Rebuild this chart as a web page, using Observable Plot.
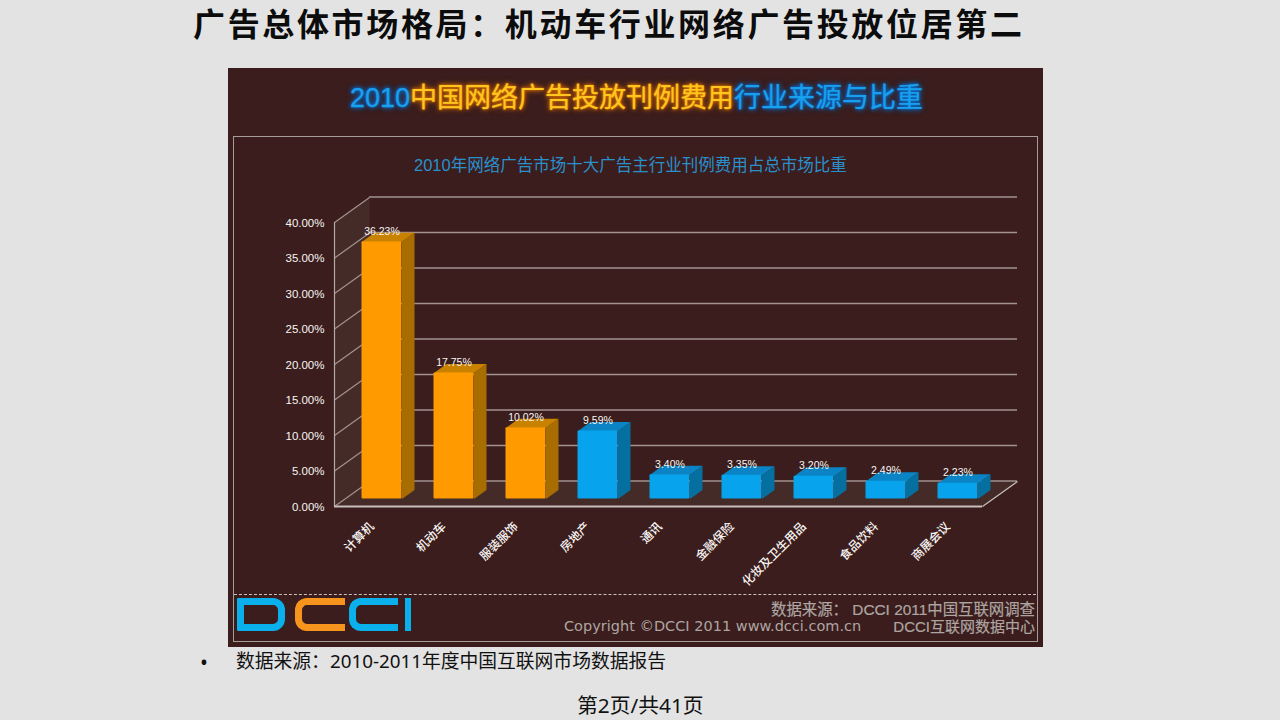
<!DOCTYPE html>
<html lang="zh">
<head>
<meta charset="utf-8">
<script src="https://cdn.jsdelivr.net/npm/d3@7"></script>
<script src="https://cdn.jsdelivr.net/npm/@observablehq/plot@0.6"></script>
<style>
html,body{margin:0;padding:0;background:#e3e3e3;overflow:hidden}
#page{position:relative;width:1280px;height:720px;font-family:"Noto Sans","Noto Sans CJK SC",sans-serif;color:#111}
#page>*{position:absolute}
#page svg{left:0;top:0}
.t{white-space:nowrap;line-height:1}
#heading{left:193px;top:6px;font:700 32px/1 "Noto Sans CJK SC",sans-serif;letter-spacing:2.65px;color:#0c0c0c}
#panel{left:228px;top:68px;width:815px;height:579px;background:#3a1d1c}
#inner{left:233px;top:136px;width:803px;height:504px;border:1px solid #a89c9a}
#dash{left:234px;top:594px;width:802px;border-top:1px dashed #c9c0be}
#banner{left:350px;top:76px;font:400 27px "Liberation Sans","Noto Sans CJK SC",sans-serif;-webkit-text-stroke:.25px currentColor}
#banner .b{color:#18a0ee;text-shadow:0 0 3px #0a6ac8,0 0 5px #0a6ac8,0 0 6px #0a5aa8}
#banner .o{color:#ffc61e;text-shadow:0 0 2px #e07000,0 0 4px #e07000,0 0 6px #c06000}
#sub{left:414px;top:152px;font:400 16.5px "Liberation Sans","Noto Sans CJK SC",sans-serif;color:#2a90cc}
#src1{right:245px;top:597px;font:400 15.4px "Liberation Sans","Noto Sans CJK SC",sans-serif;color:#aea5a3;-webkit-text-stroke:.2px currentColor}
#src2{left:564px;top:618px;font:400 14.5px "DejaVu Sans","Noto Sans CJK SC",sans-serif;color:#aea5a3}
#src3{right:245px;top:615px;font:400 15px "Liberation Sans","Noto Sans CJK SC",sans-serif;color:#aea5a3;-webkit-text-stroke:.2px currentColor}
#bullet{left:200px;top:652px;font-size:21px}
#note{left:236px;top:652px;font-size:18.8px}
#foot{left:577px;top:695px;font-size:20.8px}
.lg{box-sizing:border-box;top:598px;height:33px}
#lD{left:237px;width:48px;border:7px solid #0ab0ec;border-radius:1px 12px 12px 1px}
#lC1{left:295px;width:50px;border:7px solid #f7941e;border-right:0;border-radius:12px 0 0 12px}
#lC2{left:349px;width:49px;border:7px solid #0ab0ec;border-right:0;border-radius:12px 0 0 12px}
#lI{left:405px;width:6px;background:#0ab0ec}
</style>
</head>
<body>
<div id="page">
  <div id="panel"></div>
  <div id="inner"></div>
  <div id="dash"></div>
  <div class="t" id="heading">广告总体市场格局&#xFF1A;机动车行业网络广告投放位居第二</div>
  <div class="t" id="banner"><span class="b">2010</span><span class="o">中国网络广告投放刊例费用</span><span class="b">行业来源与比重</span></div>
  <div class="t" id="sub">2010年网络广告市场十大广告主行业刊例费用占总市场比重</div>
  <div class="lg" id="lD"></div><div class="lg" id="lC1"></div><div class="lg" id="lC2"></div><div class="lg" id="lI"></div>
  <div class="t" id="src1">数据来源&#xFF1A; DCCI 2011中国互联网调查</div>
  <div class="t" id="src2">Copyright ©DCCI 2011 www.dcci.com.cn</div>
  <div class="t" id="src3">DCCI互联网数据中心</div>
  <div class="t" id="bullet">•</div>
  <div class="t" id="note">数据来源&#xFF1A;2010-2011年度中国互联网市场数据报告</div>
  <div class="t" id="foot">第2页/共41页</div>
</div>
<script>
const categories = ["计算机","机动车","服装服饰","房地产","通讯","金融保险","化妆及卫生用品","食品饮料","商展会议"];
const shares = [36.23,17.75,10.02,9.59,3.40,3.35,3.20,2.49,2.23];
const highlighted = ["计算机","机动车","服装服饰"];
const valueTicks = [0,5,10,15,20,25,30,35,40];

const pxX = 72, pxY = 7.1;                 // pixels per category / per percent
const wallX = 35/pxX, wallY = 25/pxY;      // depth of the 3D box, in data units
const barW = 40/pxX, barDX = 12.5/pxX, barDY = 9/pxY; // bar width and bar depth
const seat = {dx: 11.5, dy: -7.5};         // bars stand midway between front and back

const rows = categories.map((c,i)=>({c,i,v:shares[i],hot:highlighted.includes(c)}));
const x1 = d=>d.i+.5-barW/2, x2 = d=>d.i+.5+barW/2;
const poly = (id,fill,pts)=>pts.map(([x,y])=>({id,fill,x,y}));
const faces = rows.flatMap(d=>{
  const a=x1(d), b=x2(d), v=d.v;
  return [
    ...poly("s"+d.i, d.hot?"#a86d00":"#05709f", [[b,0],[b,v],[b+barDX,v+barDY],[b+barDX,barDY]]),
    ...poly("t"+d.i, d.hot?"#c98200":"#0a84c4", [[a,v],[b,v],[b+barDX,v+barDY],[a+barDX,v+barDY]])
  ];
});
const shell = [
  ...poly("wall","#452b28",[[0,0],[0,40],[wallX,40+wallY],[wallX,wallY]]),
  ...poly("floor","#452b28",[[0,0],[9,0],[9+wallX,wallY],[wallX,wallY]])
];
const gridColor = "#a3928f";

const plot = Plot.plot({
  width:1280, height:720,
  marginLeft:334, marginRight:298, marginTop:222, marginBottom:214,
  style:{background:"transparent",overflow:"visible"},
  x:{domain:[0,9],axis:null},
  y:{domain:[0,40],axis:null},
  color:{type:"identity"},
  marks:[
    Plot.line(shell,{x:"x",y:"y",z:"id",fill:"fill",stroke:"none"}),
    Plot.ruleY(valueTicks,{x1:wallX,x2:9+wallX,y:d=>d+wallY,stroke:gridColor,strokeWidth:1.3,dy:-.5}),
    Plot.link(valueTicks,{x1:0,y1:d=>d,x2:wallX,y2:d=>d+wallY,stroke:gridColor,strokeWidth:1.2}),
    Plot.ruleX([0],{y1:0,y2:40,stroke:"#b5a9a6",strokeWidth:1.2}),
    Plot.ruleY([0],{x1:0,x2:9,stroke:"#c8bfbc",strokeWidth:2}),
    Plot.link([9],{x1:d=>d,y1:0,x2:d=>d+wallX,y2:wallY,stroke:"#c8bfbc",strokeWidth:1.2}),
    Plot.line(faces,{x:"x",y:"y",z:"id",fill:"fill",stroke:"none",...seat}),
    Plot.rect(rows,{x1,x2,y1:0,y2:"v",fill:d=>d.hot?"#ff9a00":"#07a3ec",rx:1,...seat}),
    Plot.text(rows,{x:d=>d.i+.5,y:"v",text:d=>d.v.toFixed(2)+"%",fill:"#f8f4f2",fontSize:10.5,fontFamily:"Liberation Sans",dx:11.5,dy:-18}),
    Plot.axisY(valueTicks,{anchor:"left",tickSize:0,tickPadding:10,label:null,tickFormat:d=>d.toFixed(2)+"%",fill:"#f8f4f2",fontSize:11.5,fontFamily:"Liberation Sans",dy:.5}),
    Plot.axisX(categories.map((c,i)=>i+.5),{anchor:"bottom",tickSize:0,tickPadding:18,tickRotate:-45,label:null,tickFormat:v=>categories[v-.5],fill:"#f8f4f2",fontSize:12,fontWeight:500,fontFamily:"Noto Sans CJK SC",dx:1.5})
  ]
});
document.getElementById("page").appendChild(plot);
</script>
</body>
</html>
